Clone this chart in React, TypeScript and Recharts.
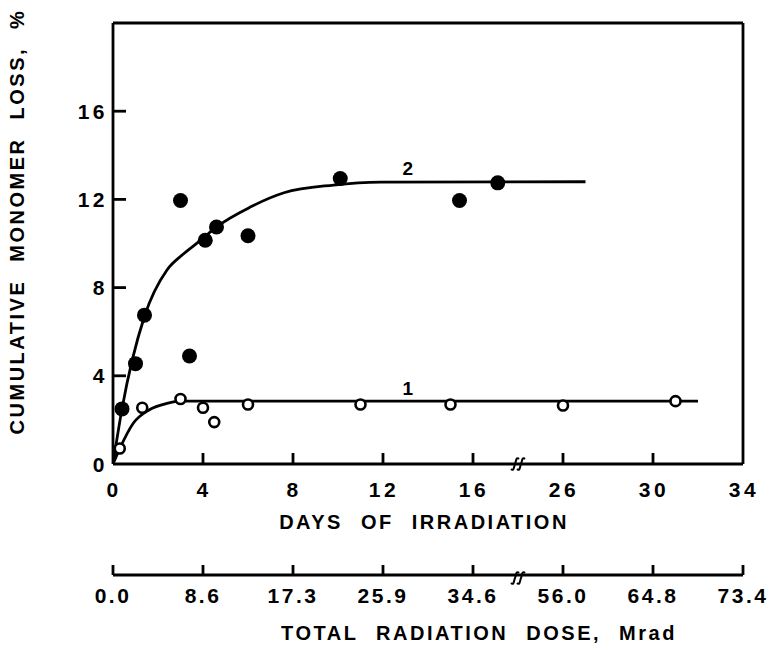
import {
  ComposedChart,
  Line,
  Scatter,
  XAxis,
  YAxis,
  ReferenceLine,
  ReferenceDot,
} from "recharts";

// tick labels
const dayTicks = [0, 4, 8, 12, 16, 26, 30, 34];
const doseTicks = ["0.0", "8.6", "17.3", "25.9", "34.6", "56.0", "64.8", "73.4"];
const lossTicks = [0, 4, 8, 12, 16];

// curve 1, open circles (days, % loss)
const openDays = [0.3, 1.3, 3.0, 4.0, 4.5, 6.0, 11.0, 15.0, 26.0, 31.0];
const openLoss = [0.7, 2.55, 2.95, 2.55, 1.9, 2.7, 2.7, 2.7, 2.65, 2.85];

// curve 2, filled circles
const filledDays = [0.4, 1.0, 1.4, 3.0, 3.4, 4.1, 4.6, 6.0, 10.1, 15.4, 17.1];
const filledLoss = [2.5, 4.55, 6.75, 11.95, 4.9, 10.15, 10.75, 10.35, 12.95, 11.95, 12.75];

// hand drawn curves
const fit1Days = [0, 0.3, 0.9, 1.6, 2.4, 3.0, 6.0, 32];
const fit1Loss = [0, 0.7, 1.85, 2.45, 2.75, 2.85, 2.85, 2.85];
const fit2Days = [0, 0.4, 1.4, 2.4, 3.1, 3.9, 4.6, 6.1, 7.6, 9.8, 11.9, 27];
const fit2Loss = [0, 2.5, 6.7, 8.8, 9.5, 10.15, 10.75, 11.65, 12.3, 12.65, 12.78, 12.8];

const curveNames = ["1", "2"];
const curveNameDays = [13.1, 13.1];
const curveNameLoss = [3.45, 13.4];

// axis is broken between 16 and 26 days
const BREAK_DAY = 18;
const BREAK_SHIFT = 6;
const toPos = (d: number) => (d > BREAK_DAY ? d - BREAK_SHIFT : d);
const BREAK_POS = 18;

const tickPos = dayTicks.map(toPos);
const axisTicks = [...tickPos.slice(0, 5), BREAK_POS, ...tickPos.slice(5)];

const pts = (xs: number[], ys: number[]) => xs.map((d, i) => ({ x: toPos(d), y: ys[i] }));

const FONT = "'Liberation Sans', Arial, sans-serif";
const INK = "#000";
const SW = 2.8;

const textStyle = {
  fontFamily: FONT,
  fontWeight: 700,
  fill: INK,
};

function BreakMark({ x, y }: { x: number; y: number }) {
  const d = (x0: number) =>
    `M ${x0 - 4} ${y + 5} C ${x0 - 1} ${y + 8}, ${x0 - 1} ${y + 2}, ${x0} ${y} ` +
    `S ${x0 + 1} ${y - 8}, ${x0 + 4} ${y - 5}`;
  return (
    <g fill="none" stroke={INK} strokeWidth={2}>
      <path d={d(x - 3)} />
      <path d={d(x + 3)} />
    </g>
  );
}

function DayTick(props: any) {
  const { x, y, payload } = props;
  if (payload.value === BREAK_POS) return <BreakMark x={x} y={y} />;
  const i = tickPos.indexOf(payload.value);
  const mark = i > 0 && i < tickPos.length - 1;
  return (
    <g>
      {mark && <line x1={x} x2={x} y1={y} y2={y - 11} stroke={INK} strokeWidth={SW} />}
      <text
        x={x + 1}
        y={y + 25}
        textAnchor="middle"
        dominantBaseline="central"
        fontSize={21}
        letterSpacing={3.5}
        {...textStyle}
      >
        {dayTicks[i]}
      </text>
    </g>
  );
}

function DoseTick(props: any) {
  const { x, y, payload } = props;
  if (payload.value === BREAK_POS) return <BreakMark x={x} y={y + 3} />;
  const i = tickPos.indexOf(payload.value);
  return (
    <g>
      <line x1={x} x2={x} y1={y} y2={y - 10} stroke={INK} strokeWidth={SW} />
      <text
        x={x}
        y={y + 20}
        textAnchor="middle"
        dominantBaseline="central"
        fontSize={21}
        letterSpacing={2.5}
        {...textStyle}
      >
        {doseTicks[i]}
      </text>
    </g>
  );
}

function LossTick(props: any) {
  const { x, y, payload } = props;
  return (
    <g>
      {payload.value > 0 && (
        <line x1={x} x2={x + 13} y1={y} y2={y} stroke={INK} strokeWidth={SW} />
      )}
      <text
        x={x - 5}
        y={y}
        textAnchor="end"
        dominantBaseline="central"
        fontSize={21}
        letterSpacing={3.5}
        {...textStyle}
      >
        {payload.value}
      </text>
    </g>
  );
}

const Filled = (p: any) => <circle cx={p.cx} cy={p.cy} r={7.5} fill={INK} />;
const Open = (p: any) => (
  <circle cx={p.cx} cy={p.cy} r={5} fill="#fff" stroke={INK} strokeWidth={2.6} />
);
const Nothing = () => <g />;

const titleStyle = {
  fontSize: 20,
  letterSpacing: 2.5,
  wordSpacing: 10,
  ...textStyle,
};

export default function App() {
  return (
    <div style={{ position: "absolute", left: 0, top: 0 }}>
      <ComposedChart
        width={769}
        height={650}
        margin={{ top: 23, right: 26, bottom: 5, left: 53 }}
      >
        <XAxis
          xAxisId="day"
          dataKey="x"
          type="number"
          domain={[0, 28]}
          allowDataOverflow
          ticks={axisTicks}
          interval={0}
          height={111}
          tickSize={0}
          tickMargin={0}
          tickLine={false}
          axisLine={{ stroke: INK, strokeWidth: SW }}
          tick={DayTick}
          label={{
            content: ({ viewBox }: any) => (
              <text
                x={viewBox.x + viewBox.width / 2 - 4}
                y={viewBox.y + 58}
                textAnchor="middle"
                dominantBaseline="central"
                {...titleStyle}
              >
                DAYS OF IRRADIATION
              </text>
            ),
          }}
        />
        <XAxis
          xAxisId="dose"
          dataKey="x"
          type="number"
          domain={[0, 28]}
          allowDataOverflow
          ticks={axisTicks}
          interval={0}
          height={70}
          tickSize={0}
          tickMargin={0}
          tickLine={false}
          axisLine={{ stroke: INK, strokeWidth: SW }}
          tick={DoseTick}
          label={{
            content: ({ viewBox }: any) => (
              <text
                x={viewBox.x + 366}
                y={viewBox.y + 58}
                textAnchor="middle"
                dominantBaseline="central"
                {...titleStyle}
              >
                TOTAL RADIATION DOSE, Mrad
              </text>
            ),
          }}
        />
        <YAxis
          dataKey="y"
          type="number"
          domain={[0, 20]}
          allowDataOverflow
          ticks={lossTicks}
          interval={0}
          width={60}
          tickSize={0}
          tickMargin={0}
          tickLine={false}
          axisLine={{ stroke: INK, strokeWidth: SW }}
          tick={LossTick}
          label={{
            content: ({ viewBox }: any) => {
              const cx = viewBox.x - 36;
              const cy = viewBox.y + viewBox.height / 2 - 22;
              return (
                <text
                  x={cx}
                  y={cy}
                  transform={`rotate(-90 ${cx} ${cy})`}
                  textAnchor="middle"
                  dominantBaseline="central"
                  {...titleStyle}
                >
                  CUMULATIVE MONOMER LOSS, %
                </text>
              );
            },
          }}
        />
        <ReferenceLine xAxisId="day" y={20} stroke={INK} strokeWidth={SW} />
        <ReferenceLine xAxisId="day" x={28} stroke={INK} strokeWidth={SW} />

        {/* the dose scale only needs its ticks, nothing is plotted on it */}
        <Scatter
          xAxisId="dose"
          data={tickPos.map((x) => ({ x, y: 0 }))}
          dataKey="y"
          shape={Nothing}
          isAnimationActive={false}
        />

        <Line
          xAxisId="day"
          data={pts(fit1Days, fit1Loss)}
          dataKey="y"
          type="monotone"
          stroke={INK}
          strokeWidth={SW}
          dot={false}
          isAnimationActive={false}
        />
        <Line
          xAxisId="day"
          data={pts(fit2Days, fit2Loss)}
          dataKey="y"
          type="monotone"
          stroke={INK}
          strokeWidth={SW}
          dot={false}
          isAnimationActive={false}
        />
        <Scatter
          xAxisId="day"
          data={pts(openDays, openLoss)}
          dataKey="y"
          shape={Open}
          isAnimationActive={false}
        />
        <Scatter
          xAxisId="day"
          data={pts(filledDays, filledLoss)}
          dataKey="y"
          shape={Filled}
          isAnimationActive={false}
        />
        {curveNames.map((n, i) => (
          <ReferenceDot
            key={n}
            xAxisId="day"
            x={toPos(curveNameDays[i])}
            y={curveNameLoss[i]}
            r={0}
            stroke="none"
            fill="none"
            label={{
              value: n,
              position: "center",
              fontSize: 19,
              fontFamily: FONT,
              fontWeight: 700,
              fill: INK,
            }}
          />
        ))}
      </ComposedChart>
    </div>
  );
}
